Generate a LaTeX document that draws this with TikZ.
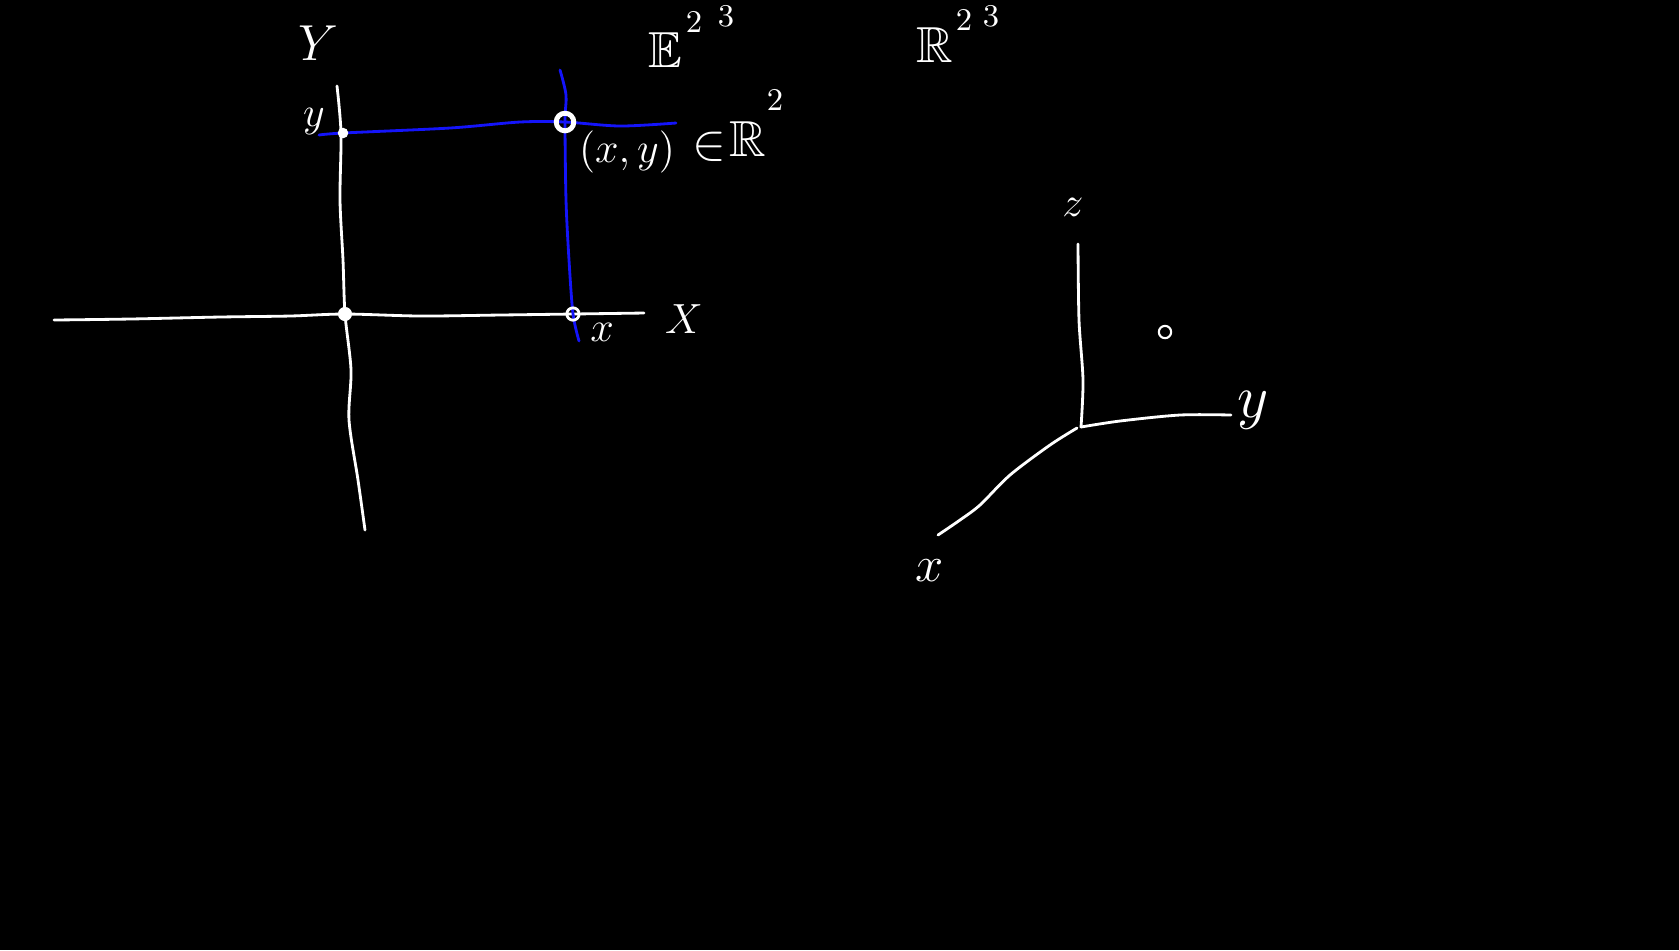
\documentclass[tikz,border=0pt]{standalone}
\usepackage{amsmath,amssymb}
\usepackage{tikz}
\usetikzlibrary{positioning}
\usepackage{xcolor}
\definecolor{pen}{RGB}{20,20,250}

\begin{document}
\begin{tikzpicture}[
    x=0.01cm, y=-0.01cm,
    chalk/.style={line width=0.8pt, white, line cap=round, line join=round},
    bluechalk/.style={line width=0.8pt, pen, line cap=round, line join=round},
    lbl/.style={text=white, font=\Large, inner sep=0pt},
    sml/.style={text=white, font=\large, inner sep=0pt},
    sup/.style={text=white, font=\small, inner sep=0pt},
    dot/.style={circle, fill=white, inner sep=0pt, minimum size=4pt},
    ring/.style={circle, draw=white, line width=1pt, inner sep=0pt, minimum size=5pt}
]
    \fill[black] (0,0) rectangle (1679,950);
    \useasboundingbox (0,0) rectangle (1679,950);

    % the plane
    \coordinate (o2) at (345,314);
    \coordinate (py) at (343,133);
    \coordinate (px) at (573,314);
    \coordinate (pxy) at (565,122);

    \draw[chalk] plot[smooth] coordinates {(54,320) (130,319) (220,317) (290,316) (345,314) (420,316) (500,315) (573,314) (644,313)};
    \draw[chalk] plot[smooth] coordinates {(337,86) (341,133) (340,200) (343,260) (345,314) (351,370) (349,420) (358,480) (365,530)};
    \draw[bluechalk] plot[smooth] coordinates {(319,135) (343,133) (450,128) (520,122) (565,122) (620,126) (676,123)};
    \draw[bluechalk] plot[smooth] coordinates {(560,70) (566,95) (565,122) (566,200) (569,260) (573,314) (579,341)};

    \node[dot] at (o2) {};
    \node[dot, minimum size=3pt] at (py) {};
    \node[ring, minimum size=3.5pt, line width=0.8pt] at (px) {};
    \node[ring, line width=1.4pt] (pt) at (pxy) {};

    \node[lbl] (Ylab) at (318,43) {$Y$};
    \node[sml] (Xlab) at (684,319) {$X$};
    \node[sml] (ylab) at (314,121) {$y$};
    \node[sml] (xlab) at (602,332) {$x$};
    \node[sml] (pair) at (627,152) {$(x,y)$};
    \node[lbl] (elem) at (709,147) {$\in$};
    \node[lbl] (R2) at (748,139) {$\mathbb{R}$};
    \node[sup] (R2e) at (775,100) {$2$};

    % spaces
    \node[lbl] (E) at (665,50) {$\mathbb{E}$};
    \node[sup] (E2) at (694,22) {$2$};
    \node[sup] (E3) at (726,16) {$3$};
    \node[lbl] (R) at (935,45) {$\mathbb{R}$};
    \node[sup] (Rtwo) at (964,20) {$2$};
    \node[sup] (Rthree) at (991,16) {$3$};

    % space
    \coordinate (o3) at (1081,427);
    \coordinate (zend) at (1078,244);
    \coordinate (yend) at (1231,415);
    \coordinate (xend) at (938,535);
    \draw[chalk] plot[smooth] coordinates {(zend) (1079,320) (1083,380) (o3)};
    \draw[chalk] plot[smooth] coordinates {(o3) (1120,421) (1180,415) (yend)};
    \draw[chalk] plot[smooth] coordinates {(1077,428) (1050,445) (1010,475) (980,505) (960,520) (xend)};
    \node[ring, minimum size=3.5pt, line width=0.6pt] (q) at (1165,332) {};

    \node[sml] (zlab) at (1073,207) {$z$};
    \node[lbl, font=\LARGE] (ylab3) at (1253,410) {$y$};
    \node[lbl] (xlab3) at (930,571) {$x$};
\end{tikzpicture}
\end{document}
